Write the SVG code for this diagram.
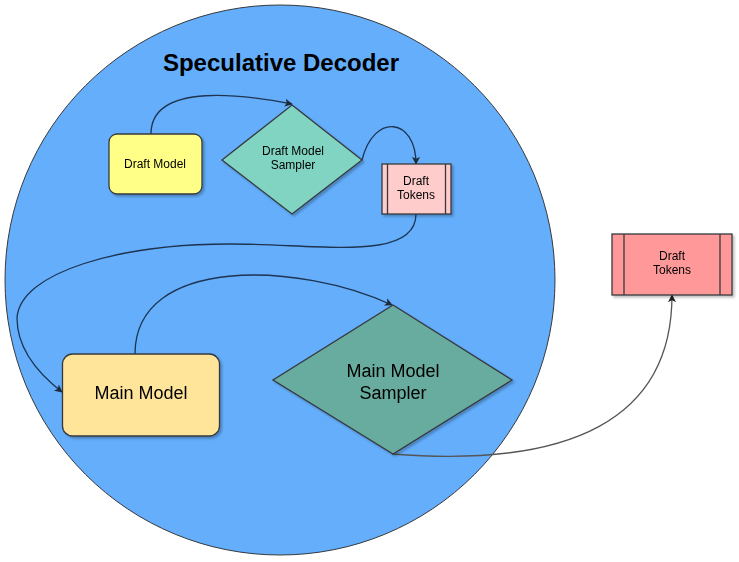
<svg xmlns="http://www.w3.org/2000/svg" width="739" height="562" viewBox="0 0 739 562">
  <defs>
    <filter id="shadow" x="-20%" y="-20%" width="140%" height="140%">
      <feDropShadow dx="2" dy="2" stdDeviation="1.2" flood-color="#000" flood-opacity="0.25"/>
    </filter>
    <marker id="arrow" viewBox="0 0 10 10" refX="9" refY="5" markerWidth="8" markerHeight="8" markerUnits="userSpaceOnUse" orient="auto">
      <path d="M0,0 L10,5 L0,10 L2.5,5 Z" fill="#1e2a38"/>
    </marker>
    <marker id="arrow-grey" viewBox="0 0 10 10" refX="9" refY="5" markerWidth="8" markerHeight="8" markerUnits="userSpaceOnUse" orient="auto">
      <path d="M0,0 L10,5 L0,10 L2.5,5 Z" fill="#222"/>
    </marker>
  </defs>
  <style>
    .shape { stroke: #36393d; stroke-width: 1.3; }
    .label { font-family: "Liberation Sans", Arial, sans-serif; fill: #000; text-anchor: middle; }
    .small { font-size: 12px; }
    .large { font-size: 18px; }
    .edge { fill: none; stroke: #1e3450; stroke-width: 1.3; marker-end: url(#arrow); }
    .edge-out { fill: none; stroke: #555; stroke-width: 1.3; marker-end: url(#arrow-grey); }
  </style>

  <rect width="739" height="562" fill="#ffffff"/>

  <g id="speculative-decoder">
    <circle cx="280" cy="280" r="275" fill="#64aefc" stroke="#36393d" stroke-width="1"/>
    <text class="label" x="281" y="71" font-size="24" font-weight="bold">Speculative Decoder</text>
  </g>

  <g id="connectors">
    <path class="edge" d="M151,134 C151,80 250,96 292,104"/>
    <path class="edge" d="M362,160 C374,112 416,118 416,164"/>
    <path class="edge" d="M416,214 C416,262 320,244 230,244 C120,244 20,272 17,318 C17,352 44,378 62,392"/>
    <path class="edge" d="M135,354 C135,255 300,262 392,305"/>
    <path class="edge-out" d="M392,454 C570,468 672,420 672,295"/>
  </g>

  <g id="draft-model" filter="url(#shadow)">
    <rect class="shape" x="109" y="134" width="93" height="60" rx="8" fill="#ffff88"/>
    <text class="label small" x="155" y="168">Draft Model</text>
  </g>

  <g id="draft-model-sampler" filter="url(#shadow)">
    <polygon class="shape" points="292,105 362,160 292,214 222,160" fill="#80d4c1"/>
    <text class="label small" x="293" y="155">Draft Model</text>
    <text class="label small" x="293" y="169">Sampler</text>
  </g>

  <g id="draft-tokens" filter="url(#shadow)">
    <rect class="shape" x="382" y="164" width="69" height="50" fill="#ffcccc"/>
    <line class="shape" x1="387.5" y1="164" x2="387.5" y2="214"/>
    <line class="shape" x1="445.5" y1="164" x2="445.5" y2="214"/>
    <text class="label small" x="416" y="185">Draft</text>
    <text class="label small" x="416" y="199">Tokens</text>
  </g>

  <g id="main-model" filter="url(#shadow)">
    <rect class="shape" x="62.5" y="354" width="157" height="82" rx="10" fill="#ffe599"/>
    <text class="label large" x="141" y="399">Main Model</text>
  </g>

  <g id="main-model-sampler" filter="url(#shadow)">
    <polygon class="shape" points="393,305 512,380 393,454 273,380" fill="#67ab9f"/>
    <text class="label large" x="393" y="377">Main Model</text>
    <text class="label large" x="393" y="399">Sampler</text>
  </g>

  <g id="draft-tokens-output" filter="url(#shadow)">
    <rect class="shape" x="612" y="234" width="120" height="61" fill="#ff9999"/>
    <line class="shape" x1="624" y1="234" x2="624" y2="295"/>
    <line class="shape" x1="720" y1="234" x2="720" y2="295"/>
    <text class="label small" x="672" y="260">Draft</text>
    <text class="label small" x="672" y="274">Tokens</text>
  </g>
</svg>
